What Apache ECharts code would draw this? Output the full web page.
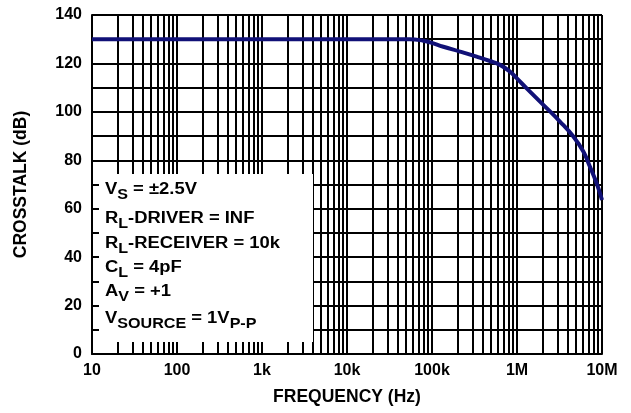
<!DOCTYPE html>
<html>
<head>
<meta charset="utf-8">
<script src="https://cdn.jsdelivr.net/npm/echarts@6/dist/echarts.min.js"></script>
<style>
html,body{margin:0;padding:0;background:#fff;}
#chart{width:631px;height:413px;}
</style>
</head>
<body>
<div id="chart"></div>
<script>
// ---- data ----
var freqHz = [10, 100, 1000, 10000, 55000, 79000, 95000, 136000, 213000, 335000, 481000, 631000, 827000, 991000, 1300000, 2040000, 3200000, 4600000, 6030000, 7200000, 8650000, 10000000];
var crosstalkDb = [130, 130, 130, 130, 130, 129.4, 128.7, 126.9, 124.9, 122.8, 121.0, 119.4, 116.6, 113.9, 109.7, 102.9, 96.0, 89.8, 83.6, 77.4, 70.5, 63.6];
var xTickLabels = ['10', '100', '1k', '10k', '100k', '1M', '10M'];
var yTickLabels = [0, 20, 40, 60, 80, 100, 120, 140];
var decades = [10, 100, 1000, 10000, 100000, 1000000];
var minorMultipliers = [2, 3, 4, 5, 6, 7, 8, 9];

var minorValues = [];
decades.forEach(function (d) {
  minorMultipliers.forEach(function (m) { minorValues.push([d * m]); });
});

var FONT = 'Liberation Sans, Arial, Helvetica, sans-serif';
var chart = echarts.init(document.getElementById('chart'), null, { renderer: 'canvas' });

function richText(x, y, text) {
  return {
    type: 'text', x: x, y: y, z: 101, scaleX: 1.15,
    style: {
      text: text,
      fill: '#000',
      rich: {
        m: { fontFamily: FONT, fontWeight: 'bold', fontSize: 16, lineHeight: 18, verticalAlign: 'top', fill: '#000' },
        s: { fontFamily: FONT, fontWeight: 'bold', fontSize: 14, lineHeight: 14, padding: [6, 0, 0, 0], verticalAlign: 'top', fill: '#000' }
      }
    }
  };
}

var option = {
  animation: false,
  backgroundColor: '#fff',
  grid: { left: 92, right: 29, top: 15, bottom: 59, containLabel: false },
  xAxis: {
    type: 'log', logBase: 10, min: 10, max: 10000000, splitNumber: 6,
    name: 'FREQUENCY (Hz)', nameLocation: 'middle', nameGap: 34,
    nameTextStyle: { fontFamily: FONT, fontWeight: 'bold', fontSize: 17.5, color: '#000' },
    axisLine: { show: true, lineStyle: { color: '#000', width: 2 } },
    axisTick: { show: false },
    axisLabel: {
      margin: 9, color: '#000', fontFamily: FONT, fontWeight: 'bold', fontSize: 16,
      formatter: function (v) { var k = Math.round(Math.log10(v)) - 1; return xTickLabels[k] || ''; }
    },
    splitLine: { show: true, lineStyle: { color: '#000', width: 2 } },
    minorTick: { show: false }
  },
  yAxis: {
    type: 'value', min: 0, max: 140, interval: 10,
    name: 'CROSSTALK (dB)', nameLocation: 'middle', nameGap: 62, nameRotate: 90,
    nameTextStyle: { fontFamily: FONT, fontWeight: 'bold', fontSize: 17.5, color: '#000' },
    axisLine: { show: true, lineStyle: { color: '#000', width: 2 } },
    axisTick: { show: false },
    axisLabel: {
      margin: 10, color: '#000', fontFamily: FONT, fontWeight: 'bold', fontSize: 16,
      formatter: function (v) { return yTickLabels.indexOf(v) >= 0 ? String(v) : ''; }
    },
    splitLine: { show: true, lineStyle: { color: '#000', width: 2 } }
  },
  series: [
    {
      type: 'custom', z: 1, silent: true,
      data: minorValues,
      encode: { x: 0 },
      renderItem: function (params, api) {
        var top = api.coord([api.value(0), 140]);
        var bot = api.coord([api.value(0), 0]);
        var x = Math.round(top[0]);
        return {
          type: 'line',
          shape: { x1: x, y1: top[1], x2: x, y2: bot[1] },
          style: { stroke: '#000', lineWidth: 2 }
        };
      }
    },
    {
      type: 'line', z: 10,
      data: freqHz.map(function (f, i) { return [f, crosstalkDb[i]]; }),
      smooth: 0.45, showSymbol: false, symbol: 'none',
      lineStyle: { color: '#111177', width: 4 }
    }
  ],
  graphic: [
    { type: 'rect', z: 100, shape: { x: 99, y: 174, width: 214, height: 168 }, style: { fill: '#fff' } },
    richText(105, 182, '{m|V}{s|S}{m| = ±2.5V}'),
    richText(105, 211, '{m|R}{s|L}{m|-DRIVER = INF}'),
    richText(105, 236, '{m|R}{s|L}{m|-RECEIVER = 10k}'),
    richText(105, 260, '{m|C}{s|L}{m| = 4pF}'),
    richText(105, 284, '{m|A}{s|V}{m| = +1}'),
    richText(105, 311, '{m|V}{s|SOURCE}{m| = 1V}{s|P-P}')
  ]
};
chart.setOption(option);
</script>
</body>
</html>
